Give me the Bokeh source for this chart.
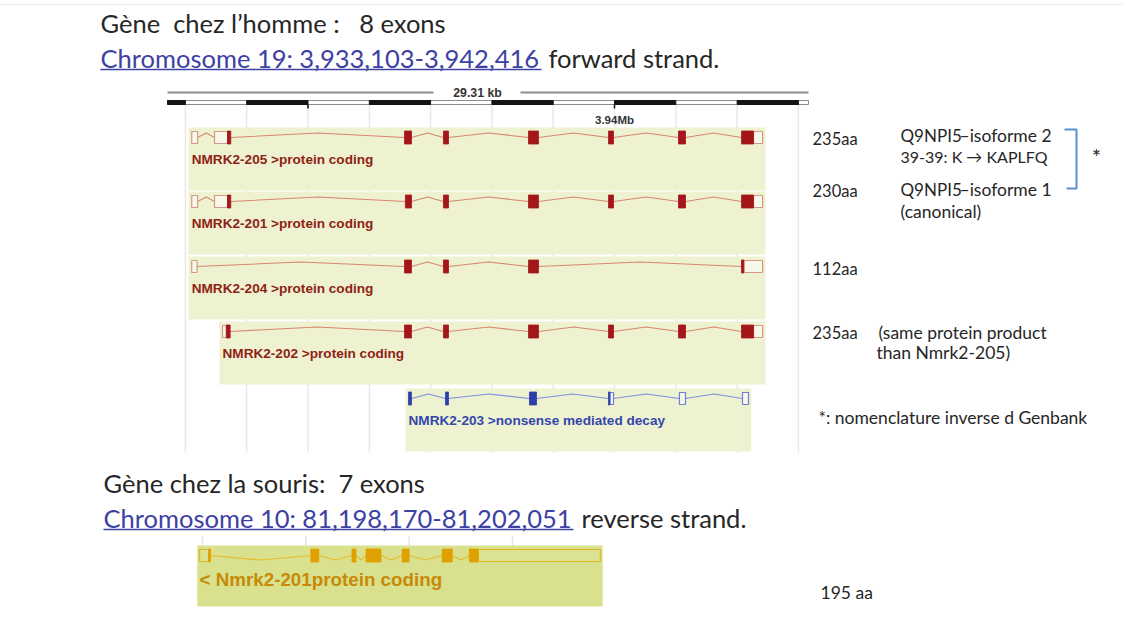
from bokeh.plotting import figure
from bokeh.models import Range1d
from bokeh.core.properties import value
from bokeh.embed import file_html
from bokeh.resources import INLINE

# ---------------- data: human NMRK2 (chr19, forward strand) ----------------
hs_transcripts = ["NMRK2-205", "NMRK2-201", "NMRK2-204", "NMRK2-202", "NMRK2-203"]
hs_biotypes = ["protein coding", "protein coding", "protein coding", "protein coding",
               "nonsense mediated decay"]
hs_exon_starts = [
    [3933103, 3933475, 3936574, 3937210, 3938597, 3939902, 3941044, 3942072],
    [3933103, 3933475, 3936589, 3937210, 3938597, 3939902, 3941044, 3942072],
    [3933103, 3936574, 3937210, 3938597, 3942072],
    [3933605, 3936574, 3937210, 3938597, 3939902, 3941044, 3942072],
    [3936640, 3937243, 3938613, 3939902, 3941060, 3942088],
]
hs_exon_ends = [
    [3933200, 3933740, 3936688, 3937292, 3938760, 3939984, 3941158, 3942416],
    [3933200, 3933740, 3936688, 3937292, 3938760, 3939984, 3941158, 3942416],
    [3933190, 3936688, 3937292, 3938760, 3942416],
    [3933730, 3936688, 3937292, 3938760, 3939984, 3941158, 3942416],
    [3936688, 3937292, 3938728, 3939984, 3941158, 3942186],
]
hs_cds_start = [3933687, 3933687, 3936574, 3933668, 3936640]
hs_cds_end = [3942268, 3942268, 3942110, 3942268, 3939925]
hs_protein_len = ["235aa", "230aa", "112aa", "235aa"]

hs_scale_start = 3932708
hs_scale_end = 3943165
hs_scale_label = "29.31 kb"
hs_grid_bp = [3933000, 3934000, 3935000, 3936000, 3937000, 3938000,
              3939000, 3940000, 3941000, 3942000, 3943000]
hs_major_ticks = [3935000, 3940000]
hs_tick_label = "3.94Mb"

# ---------------- data: mouse Nmrk2 (chr10, reverse strand) ----------------
mm_transcript = "Nmrk2-201"
mm_biotype = "protein coding"
mm_exon_starts = [81198170, 81199248, 81199646, 81199782, 81200131, 81200519, 81200782]
mm_exon_ends = [81198277, 81199325, 81199685, 81199927, 81200199, 81200617, 81202051]
mm_cds_start = 81198258
mm_cds_end = 81200869
mm_protein_len = "195 aa"
mm_grid_bp = [81198200, 81199200, 81200200, 81201200]

# ---------------- layout ----------------
W, H = 1123, 610
X0, Y0 = 0, 0
# genomic calibration (pixel position of a reference base, pixels per kb)
HS_REF_BP, HS_REF_PX, HS_PX_KB = 3940000, 614.0, 61.3
MM_REF_BP, MM_REF_PX, MM_PX_KB = 81198170, 199.0, 103.3


def rng(ref_bp, ref_px, px_kb):
    return Range1d(ref_bp + (X0 - ref_px) / px_kb * 1000,
                   ref_bp + (X0 + W - ref_px) / px_kb * 1000)


p = figure(width=W, height=H, x_range=Range1d(X0, X0 + W), y_range=Range1d(Y0 + H, Y0),
           output_backend="svg", toolbar_location=None, min_border=0)
p.extra_x_ranges = {"hs": rng(HS_REF_BP, HS_REF_PX, HS_PX_KB),
                    "mm": rng(MM_REF_BP, MM_REF_PX, MM_PX_KB)}
p.axis.visible = False
p.xgrid.visible = False
p.ygrid.visible = False
p.outline_line_color = None
p.background_fill_color = "white"
p.border_fill_color = "white"

CAL = value("Lato")
ENS = value("Liberation Sans")
DARK = "#262626"
LINK = "#3d41a3"
NB = "\u00a0"


def txt(x, y, s, size, color=DARK, font=CAL, style="normal", align="left", rng_name="default"):
    p.text(x=[x], y=[y], text=[s], text_font=font, text_font_size=f"{size}px",
           text_font_style=style, text_color=color, text_align=align,
           text_baseline="middle", x_range_name=rng_name)


# faint frame line at top
p.segment(x0=[0], y0=[4], x1=[1123], y1=[4], line_color="#ececec", line_width=1)

# ---------------- headings ----------------
HS = 25.5
txt(100, 22, f"Gène {NB}chez l’homme : {NB}{NB}8 exons", HS)
txt(100, 57, "Chromosome 19: 3,933,103-3,942,416", HS, LINK)
p.segment(x0=[100], y0=[69], x1=[541], y1=[69], line_color=LINK, line_width=1.3)
txt(548, 57, "forward strand.", HS)

txt(103, 482, f"Gène chez la souris: {NB}7 exons", HS)
txt(103, 517, "Chromosome 10: 81,198,170-81,202,051", HS, LINK)
p.segment(x0=[103], y0=[529], x1=[573], y1=[529], line_color=LINK, line_width=1.3)
txt(581, 517, "reverse strand.", HS)

# ---------------- human scale bar ----------------
p.segment(x0=[167, 520], y0=[92, 92], x1=[433, 808], y1=[92, 92],
          line_color="#8c8c8c", line_width=2)
txt(477, 92, hs_scale_label, 12.3, "#333333", ENS, "bold", "center")

# grid lines behind tracks
p.segment(x0=hs_grid_bp, y0=[104] * len(hs_grid_bp), x1=hs_grid_bp, y1=[452] * len(hs_grid_bp),
          line_color="#e9e9e9", line_width=1.5, x_range_name="hs")

bounds = [hs_scale_start] + hs_grid_bp + [hs_scale_end]
segL = bounds[:-1]
segR = bounds[1:]
p.quad(left=[hs_scale_start], right=[hs_scale_end], top=[100], bottom=[104],
       fill_color="white", line_color="#8c8c8c", line_width=1, x_range_name="hs")
bl = [segL[i] for i in range(len(segL)) if i % 2 == 0]
br = [segR[i] for i in range(len(segR)) if i % 2 == 0]
p.quad(left=bl, right=br, top=[100] * len(bl), bottom=[104] * len(bl),
       fill_color="#141414", line_color="#141414", x_range_name="hs")
p.segment(x0=hs_major_ticks, y0=[104, 104], x1=hs_major_ticks, y1=[108, 108],
          line_color="#141414", line_width=1.5, x_range_name="hs")
txt(hs_major_ticks[1], 119, hs_tick_label, 11.5, "#333333", ENS, "bold", "center", "hs")


# ---------------- transcript drawing ----------------
def draw_tx(rname, starts, ends, cds_s, cds_e, yc, box, pad_l, pad_r,
            exon_col, utr_col, utr_fill, intron_col, bg_col, hat,
            label, label_col, label_size, label_dy):
    p.quad(left=[starts[0] - pad_l], right=[ends[-1] + pad_r], top=[yc + box[0]],
           bottom=[yc + box[1]], fill_color=bg_col, line_color=None, x_range_name=rname)
    xs, ys = [], []
    for i in range(len(starts) - 1):
        a, b = ends[i], starts[i + 1]
        xs.append([a, (a + b) / 2, b])
        ys.append([yc, yc + hat, yc])
    p.multi_line(xs=xs, ys=ys, line_color=intron_col, line_width=1.1, x_range_name=rname)
    cl, cr, ul, ur = [], [], [], []
    for s, e in zip(starts, ends):
        a, b = max(s, cds_s), min(e, cds_e)
        if a < b:
            cl.append(a)
            cr.append(b)
        if s < cds_s:
            ul.append(s)
            ur.append(min(e, cds_s))
        if e > cds_e:
            ul.append(max(s, cds_e))
            ur.append(e)
    if ul:
        p.quad(left=ul, right=ur, top=[yc - 6] * len(ul), bottom=[yc + 6] * len(ul),
               fill_color=utr_fill, line_color=utr_col, line_width=1.2,
               x_range_name=rname)
    if cl:
        p.quad(left=cl, right=cr, top=[yc - 6.5] * len(cl), bottom=[yc + 6.5] * len(cl),
               fill_color=exon_col, line_color=exon_col, line_width=0.8, x_range_name=rname)
    txt(starts[0], yc + label_dy, label, label_size, label_col, ENS, "bold", "left", rname)


hs_y = [137, 201, 266, 331, 398]
for k in range(len(hs_transcripts)):
    nmd = hs_biotypes[k] != "protein coding"
    draw_tx("hs", hs_exon_starts[k], hs_exon_ends[k], hs_cds_start[k], hs_cds_end[k],
            hs_y[k], (-10, 53), 50, 45,
            "#2f3fa8" if nmd else "#a3171a",
            "#6f7fd6" if nmd else "#d49a88",
            "#f7f8ea",
            "#7d8fe0" if nmd else "#d9876e",
            "#eef2d1", -4.5,
            f"{hs_transcripts[k]} >{hs_biotypes[k]}",
            "#3547ab" if nmd else "#8e2214", 13.6, 22)

# mouse
p.segment(x0=mm_grid_bp, y0=[536] * len(mm_grid_bp), x1=mm_grid_bp, y1=[545] * len(mm_grid_bp),
          line_color="#e4e4e4", line_width=1.5, x_range_name="mm")
draw_tx("mm", mm_exon_starts, mm_exon_ends, mm_cds_start, mm_cds_end, 555, (-10, 51), 22, 22,
        "#e0a100", "#e3b320", "#dbe294", "#e8bb2a", "#d9e08e", 4.5,
        f"< {mm_transcript}{mm_biotype}", "#c68a06", 18.8, 24)

# ---------------- right-hand annotations ----------------
RX = 812
SM = 17.5
txt(RX, 138, hs_protein_len[0], 16.5)
txt(900, 135, "Q9NPI5", 17)
txt(959, 135, "–isoforme 2", 17.5)
txt(900, 156, "39-39: K → KAPLFQ", 16)
txt(RX, 190, hs_protein_len[1], 16.5)
txt(900, 189, "Q9NPI5", 17)
txt(959, 189, "–isoforme 1", 17.5)
txt(900, 211, "(canonical)", SM)
txt(RX, 268, hs_protein_len[2], 16.5)
txt(RX, 332, hs_protein_len[3], 16.5)
txt(878, 332, "(same protein product", SM)
txt(876, 352, "than Nmrk2-205)", SM)
txt(RX + 6, 417, "*: nomenclature inverse d Genbank", SM)
txt(RX + 8, 592, mm_protein_len, SM)
p.line(x=[1064, 1076, 1076, 1066], y=[129, 129, 188, 188], line_color="#5b8ed2", line_width=2)
txt(1096, 156, "*", 22, align="center")

open("out.html", "w").write(file_html(p, INLINE))
